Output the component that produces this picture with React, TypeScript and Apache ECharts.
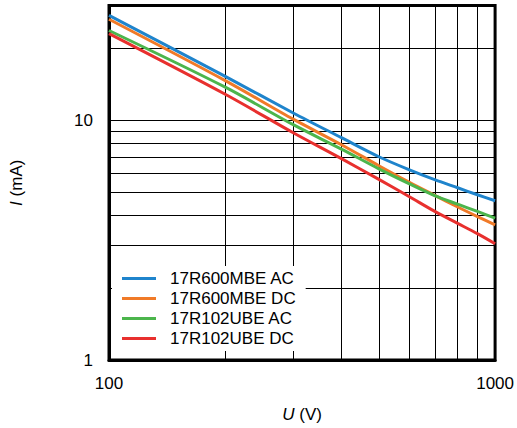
import React, { useEffect, useRef } from "react";
import * as echarts from "echarts";

const voltages = [100, 200, 300, 400, 500, 600, 700, 800, 900, 1000];
const mbeAC = [27.3, 15.2, 10.7, 8.44, 7.03, 6.2, 5.63, 5.22, 4.88, 4.61];
const mbeDC = [26.3, 14.6, 10.08, 7.89, 6.45, 5.5, 4.84, 4.34, 3.96, 3.66];
const ubeAC = [23.6, 13.7, 9.56, 7.56, 6.26, 5.42, 4.83, 4.46, 4.16, 3.9];
const ubeDC = [22.9, 12.8, 8.85, 6.9, 5.66, 4.79, 4.15, 3.71, 3.36, 3.05];

const seriesNames = ["17R600MBE AC", "17R600MBE DC", "17R102UBE AC", "17R102UBE DC"];
const seriesColors = ["#1f84cc", "#f07a28", "#4cb54c", "#e8302e"];
const seriesValues = [mbeAC, mbeDC, ubeAC, ubeDC];

const xMinorGrid = [200, 300, 400, 500, 600, 700, 800, 900];
const yMinorGrid = [2, 3, 4, 5, 6, 7, 8, 9, 20];

const FONT = 'Arial, "Liberation Sans", Helvetica, sans-serif';

const isDecade = (v: number) => {
  const l = Math.log10(v);
  return Math.abs(l - Math.round(l)) < 1e-6;
};

export default function App() {
  const ref = useRef<HTMLDivElement>(null);
  useEffect(() => {
    if (!ref.current) return;
    const chart = echarts.init(ref.current, null, { renderer: "svg" });
    const series: any[] = seriesNames.map((name, i) => ({
      name,
      type: "line",
      data: voltages.map((v, j) => [v, seriesValues[i][j]]),
      showSymbol: false,
      symbol: "none",
      smooth: 0.3,
      color: seriesColors[i],
      lineStyle: { width: 3, color: seriesColors[i] },
      z: 3,
    }));
    series.push({
      name: "grid",
      type: "line",
      data: [],
      silent: true,
      showSymbol: false,
      markLine: {
        silent: true,
        z: 1,
        symbol: "none",
        label: { show: false },
        lineStyle: { color: "#000", width: 1, type: "solid" },
        data: [
          ...xMinorGrid.map((v) => ({ xAxis: v })),
          ...yMinorGrid.map((v) => ({ yAxis: v })),
        ],
      },
    });
    chart.setOption({
      animation: false,
      backgroundColor: "#fff",
      textStyle: { fontFamily: FONT },
      grid: {
        left: 102.5,
        right: 20.5,
        top: 5.5,
        bottom: 68,
        show: true,
        borderColor: "#000",
        borderWidth: 3,
        backgroundColor: "transparent",
      },
      legend: {
        data: seriesNames.map((n) => ({ name: n, icon: "rect" })),
        orient: "vertical",
        left: 112,
        top: 266,
        padding: [4, 10, 4, 10],
        itemGap: 3,
        itemWidth: 34,
        itemHeight: 3,
        backgroundColor: "#fff",
        textStyle: {
          fontSize: 17,
          lineHeight: 17,
          color: "#000",
          fontFamily: FONT,
          padding: [0, 0, 0, 9],
        },
      },
      xAxis: {
        type: "log",
        logBase: 10,
        min: 100,
        max: 1000,
        name: "{i|U} (V)",
        nameLocation: "middle",
        nameGap: 46,
        nameTextStyle: {
          fontSize: 17,
          color: "#000",
          fontFamily: FONT,
          rich: { i: { fontStyle: "italic", fontSize: 17, color: "#000", fontFamily: FONT } },
        },
        axisLine: { show: true, lineStyle: { color: "#000", width: 3 } },
        axisTick: { show: false },
        axisLabel: {
          fontSize: 17,
          color: "#000",
          margin: 15,
          fontFamily: FONT,
          formatter: (v: number) => (isDecade(v) ? String(Math.round(v)) : ""),
        },
        splitLine: { show: true, lineStyle: { color: "#000", width: 1 } },
      },
      yAxis: {
        type: "log",
        logBase: 10,
        min: 1,
        max: 30,
        name: "{i|I} (mA)",
        nameLocation: "middle",
        nameRotate: 90,
        nameGap: 84,
        nameTextStyle: {
          fontSize: 17,
          color: "#000",
          fontFamily: FONT,
          rich: { i: { fontStyle: "italic", fontSize: 17, color: "#000", fontFamily: FONT } },
        },
        axisLine: { show: true, lineStyle: { color: "#000", width: 3 } },
        axisTick: { show: false },
        axisLabel: {
          fontSize: 17,
          color: "#000",
          margin: 16,
          fontFamily: FONT,
          formatter: (v: number) => (isDecade(v) ? String(Math.round(v)) : ""),
        },
        splitLine: { show: true, lineStyle: { color: "#000", width: 1 } },
      },
      series,
    });
    return () => chart.dispose();
  }, []);
  return (
    <div
      ref={ref}
      style={{ position: "fixed", left: 0, top: 0, width: 517, height: 428, background: "#fff" }}
    />
  );
}
